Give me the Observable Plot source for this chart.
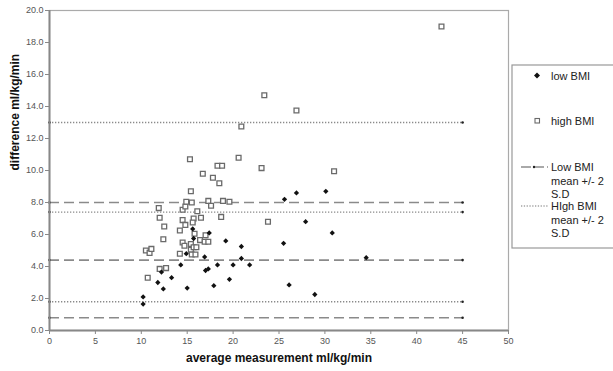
<!DOCTYPE html>
<html><head><meta charset="utf-8">
<script src="https://cdn.jsdelivr.net/npm/d3@7"></script>
<script src="https://cdn.jsdelivr.net/npm/@observablehq/plot@0.6"></script>
<style>body{margin:0;background:#fff;font-family:"Liberation Sans",Arial,sans-serif}</style>
</head><body><div id="chart"></div>
<script>
const lowX = [10.2,10.2,11.8,12.2,12.4,13.3,14.3,14.9,15.0,15.6,15.7,16.9,17.0,17.3,17.4,17.9,18.3,19.2,19.6,20.0,20.9,20.9,21.8,25.5,25.6,26.1,26.9,27.9,28.9,30.1,30.8,34.5];
const lowY = [2.1,1.65,3.0,3.65,2.6,3.3,4.1,4.8,2.65,6.35,5.75,4.6,3.75,3.85,6.1,2.8,4.1,5.6,3.2,4.1,5.25,4.5,4.1,5.45,8.2,2.85,8.6,6.8,2.25,8.7,6.1,4.55];
const highX = [10.5,10.9,11.1,10.7,12.0,12.7,11.9,12.0,12.5,12.4,14.2,14.2,14.5,14.7,14.5,14.5,14.8,14.8,14.9,15.3,15.4,15.5,15.4,15.4,15.5,15.9,15.7,16.0,15.8,15.7,15.6,16.1,16.4,16.5,16.7,16.9,17.0,17.3,17.3,17.6,17.8,18.3,18.5,18.7,18.8,18.9,19.6,20.6,20.9,23.1,23.4,23.8,26.9,31.0,42.7];
const highY = [5.0,4.85,5.1,3.3,3.85,3.9,7.65,7.05,6.5,5.7,6.25,4.8,5.5,5.3,6.9,7.55,6.6,7.75,8.05,10.7,8.7,8.0,5.4,5.05,4.75,4.75,5.2,5.2,6.05,7.0,6.75,7.45,5.65,7.05,9.8,5.55,5.95,5.55,8.1,7.8,9.55,10.3,9.2,7.1,10.3,8.1,8.05,10.8,12.75,10.15,14.7,6.8,13.75,9.95,19.0];
const lowLimits = [0.8, 4.4, 8.0];
const highLimits = [1.8, 7.4, 13.0];
const lineStart = 0, lineEnd = 45;
const xTicks = [0,5,10,15,20,25,30,35,40,45,50];
const yTicks = [0,2,4,6,8,10,12,14,16,18,20];
const xTitle = "average measurement ml/kg/min";
const yTitle = "difference ml/kg/min";
const legendItems = [["low BMI"],["high BMI"],["Low BMI","mean +/- 2","S.D"],["HIgh BMI","mean +/- 2","S.D"]];

const low = lowX.map((x,i)=>({x, y: lowY[i]}));
const high = highX.map((x,i)=>({x, y: highY[i]}));
const ends = [...lowLimits, ...highLimits].flatMap(y => [{x: lineStart, y}, {x: lineEnd, y}]);
const font = '"Liberation Sans", Arial, sans-serif';

const plot = Plot.plot({
  width: 613, height: 371,
  marginLeft: 49, marginRight: 105, marginTop: 10, marginBottom: 41,
  style: {fontFamily: font, fontSize: "9px", color: "#555", background: "#fff", overflow: "visible"},
  x: {domain: [0, 50]},
  y: {domain: [0, 20]},
  marks: [
    Plot.frame({stroke: "#aaa", strokeWidth: 1.2}),
    Plot.ruleY(lowLimits, {x1: lineStart, x2: lineEnd, stroke: "#8a8a8a", strokeWidth: 1.6, strokeDasharray: "10,5"}),
    Plot.ruleY(highLimits, {x1: lineStart, x2: lineEnd, stroke: "#8a8a8a", strokeWidth: 1.4, strokeDasharray: "1.3,1.7"}),
    Plot.dot(ends, {x: "x", y: "y", r: 1.3, fill: "#222"}),
    Plot.dot(high, {x: "x", y: "y", symbol: "square", r: 2.7, stroke: "#6a6a6a", strokeWidth: 1.3, fill: "#fff"}),
    Plot.dot(low, {x: "x", y: "y", symbol: "square", rotate: 45, r: 2.1, fill: "#111"}),
    Plot.axisX({ticks: xTicks, tickFormat: d => d, tickSize: 4, tickPadding: 3, label: null, stroke: "#888"}),
    Plot.axisY({ticks: yTicks, tickFormat: d => d.toFixed(1), tickSize: 4, tickPadding: 2, label: null, stroke: "#888"}),
    Plot.ruleX([0], {stroke: "#888", strokeWidth: 2}),
    Plot.ruleY([0], {stroke: "#888", strokeWidth: 2}),
    Plot.text([xTitle], {frameAnchor: "bottom", dy: 31, fontWeight: "bold", fontSize: 12, fill: "#111"}),
    Plot.text([yTitle], {frameAnchor: "left", dx: -34, rotate: -90, fontWeight: "bold", fontSize: 12, fill: "#111"})
  ]
});
document.getElementById("chart").appendChild(plot);

// legend
const svg = d3.select(plot);
const g = svg.append("g").attr("font-family", font).attr("font-size", 11).attr("fill", "#222").attr("text-anchor", "start");
g.append("rect").attr("x", 512).attr("y", 65).attr("width", 110).attr("height", 183)
  .attr("fill", "#fff").attr("stroke", "#999").attr("stroke-width", 1.2);
g.append("polygon").attr("points", "537,72.5 540,75.5 537,78.5 534,75.5").attr("fill", "#111");
g.append("text").attr("x", 551).attr("y", 79.5).text(legendItems[0][0]);
g.append("rect").attr("x", 535).attr("y", 118.5).attr("width", 4.5).attr("height", 4.5)
  .attr("fill", "#fff").attr("stroke", "#6a6a6a").attr("stroke-width", 1.1);
g.append("text").attr("x", 551).attr("y", 124.5).text(legendItems[1][0]);
g.append("line").attr("x1", 521).attr("x2", 548).attr("y1", 167).attr("y2", 167)
  .attr("stroke", "#555").attr("stroke-width", 1.2).attr("stroke-dasharray", "10,3");
g.append("circle").attr("cx", 534).attr("cy", 167).attr("r", 1.2).attr("fill", "#222");
legendItems[2].forEach((t, i) => g.append("text").attr("x", 551).attr("y", 171 + i * 13.5).text(t));
g.append("line").attr("x1", 521).attr("x2", 548).attr("y1", 206).attr("y2", 206)
  .attr("stroke", "#777").attr("stroke-width", 1.1).attr("stroke-dasharray", "1.3,1.5");
legendItems[3].forEach((t, i) => g.append("text").attr("x", 551).attr("y", 210 + i * 13.5).text(t));
</script></body></html>
